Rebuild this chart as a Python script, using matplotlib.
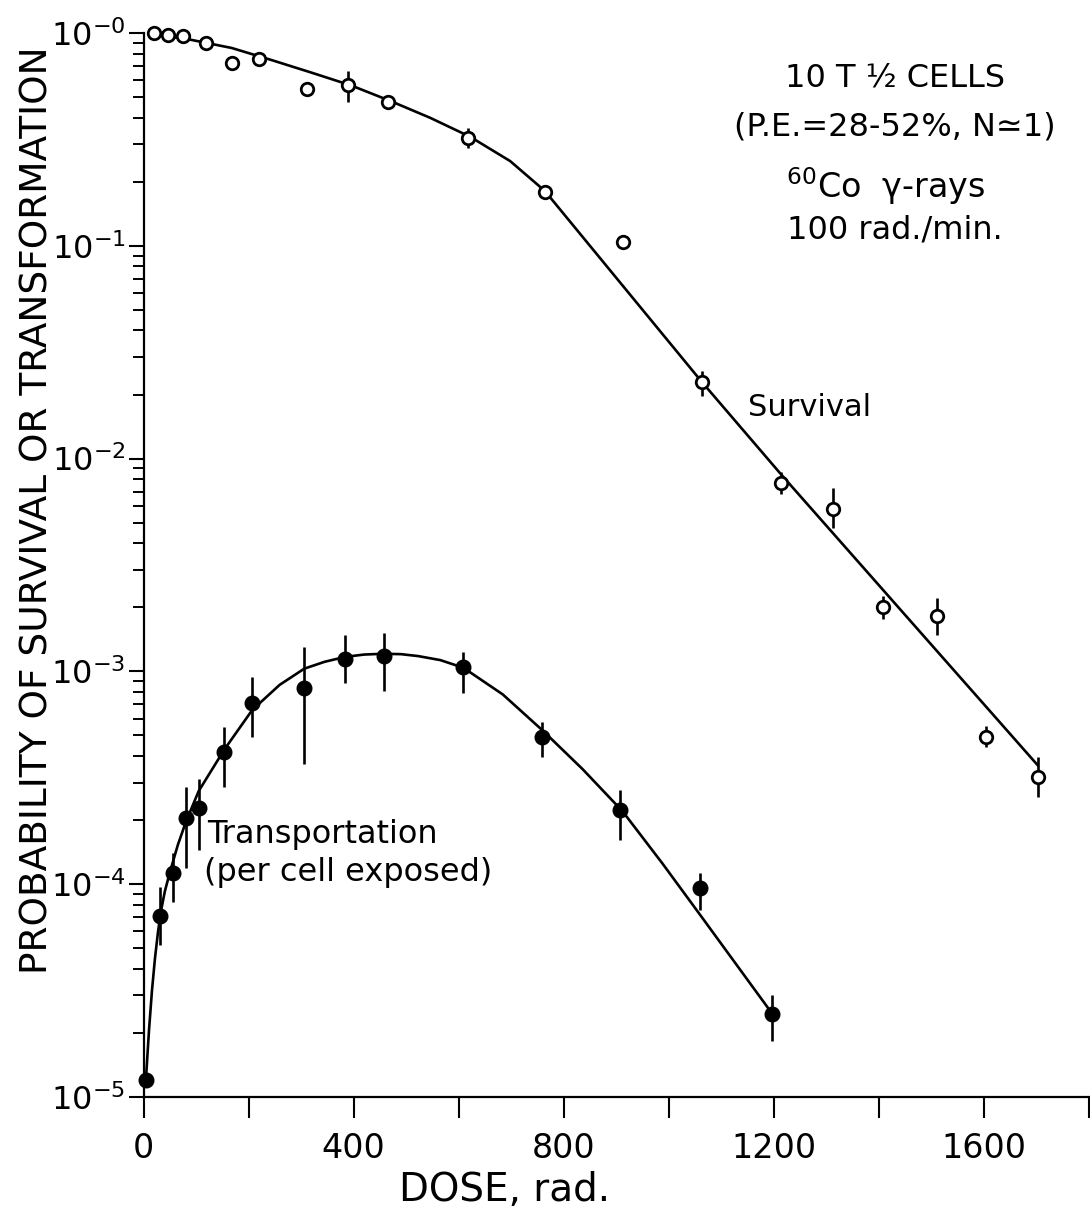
import numpy as np
import matplotlib
matplotlib.use("Agg")
import matplotlib.pyplot as plt
from matplotlib.ticker import FixedLocator, LogLocator, NullFormatter

plt.rcParams["font.family"] = ["DejaVu Sans"]
plt.rcParams["mathtext.default"] = "regular"

# -----------------------------------------------------------------------------
# Data
# -----------------------------------------------------------------------------
surv_dose = [20, 47, 75, 118, 168, 219, 312, 390, 466, 617, 765, 913,
             1063, 1213, 1312, 1408, 1510, 1603, 1703]
surv_val = [0.997, 0.978, 0.971, 0.90, 0.72, 0.757, 0.544, 0.570, 0.473,
            0.32, 0.1795, 0.1038, 0.0230, 0.00766, 0.00578, 0.00201,
            0.00182, 0.000493, 0.00032]
surv_lo = [np.nan] * 7 + [0.476, np.nan, 0.288, np.nan, np.nan, 0.0197,
                          0.00682, 0.00472, 0.00176, 0.00149, 0.000442, 0.000257]
surv_hi = [np.nan] * 7 + [0.665, np.nan, 0.358, np.nan, np.nan, 0.0258,
                          0.00866, 0.00724, 0.00227, 0.00221, 0.000553, 0.000398]

trans_dose = [5, 31, 56, 80, 105, 154, 207, 306, 383, 457, 609, 758, 908,
              1059, 1197]
trans_val = [1.20e-5, 7.09e-5, 1.125e-4, 2.04e-4, 2.27e-4, 4.17e-4, 7.13e-4,
             8.33e-4, 1.14e-3, 1.186e-3, 1.046e-3, 4.93e-4, 2.23e-4,
             9.57e-5, 2.46e-5]
trans_lo = [np.nan, 5.18e-5, 8.28e-5, 1.19e-4, 1.45e-4, 2.87e-4, 4.93e-4,
            3.67e-4, 8.79e-4, 8.11e-4, 7.89e-4, 3.97e-4, 1.61e-4, 7.57e-5,
            1.83e-5]
trans_hi = [np.nan, 9.73e-5, 1.40e-4, 2.87e-4, 3.11e-4, 5.46e-4, 9.44e-4,
            1.30e-3, 1.48e-3, 1.51e-3, 1.24e-3, 5.81e-4, 2.77e-4, 1.13e-4,
            3.01e-5]

# hand-drawn fit curves
surv_fit_dose = [16, 92, 168, 243, 319, 395, 470, 546, 622, 698, 764,
                 1063, 1213, 1702]
surv_fit_val = [0.989, 0.927, 0.850, 0.747, 0.652, 0.567, 0.479, 0.399,
                0.325, 0.250, 0.181, 0.0229, 0.00847, 0.000363]

trans_fit_dose = [4.7, 10.4, 16.1, 21.8, 27.5, 33.1, 40.7, 50.2, 65.3, 80.5,
                  105, 154, 207, 259, 306, 345, 384, 420, 457, 490, 523,
                  565, 609, 684, 760, 836, 912, 988, 1063, 1196]
trans_fit_val = [1.228e-5, 2.065e-5, 3.18e-5, 4.50e-5, 5.96e-5, 7.48e-5,
                 9.29e-5, 1.14e-4, 1.53e-4, 1.96e-4, 2.74e-4, 4.30e-4,
                 6.59e-4, 8.64e-4, 1.03e-3, 1.11e-3, 1.17e-3, 1.20e-3,
                 1.21e-3, 1.205e-3, 1.18e-3, 1.13e-3, 1.04e-3, 7.79e-4,
                 5.27e-4, 3.47e-4, 2.20e-4, 1.25e-4, 6.99e-5, 2.48e-5]

x_ticks = list(range(0, 1801, 200))
x_labels = ["0", "", "400", "", "800", "", "1200", "", "1600", ""]
y_ticks = [1e-5, 1e-4, 1e-3, 1e-2, 1e-1, 1e0]
y_labels = [r"$10^{-5}$", r"$10^{-4}$", r"$10^{-3}$", r"$10^{-2}$",
            r"$10^{-1}$", r"$10^{-0}$"]

# -----------------------------------------------------------------------------
# Figure
# -----------------------------------------------------------------------------
fig = plt.figure(figsize=(10.9, 12.17), dpi=100)
ax = fig.add_axes([0.1317, 0.0986, 0.8674, 0.8743])
ax.set_yscale("log")
ax.set_xlim(0, 1800)
ax.set_ylim(1e-5, 1.0)

lw = 1.9

# fit curves
ax.plot(surv_fit_dose, surv_fit_val, color="black", lw=lw, zorder=2,
        solid_joinstyle="round")
ax.plot(trans_fit_dose, trans_fit_val, color="black", lw=lw, zorder=2,
        solid_joinstyle="round")


def draw_bars(dose, val, lo, hi):
    d = np.array(dose, float)
    v = np.array(val, float)
    lo = np.array(lo, float)
    hi = np.array(hi, float)
    ok = np.isfinite(lo)
    ax.errorbar(d[ok], v[ok], yerr=[v[ok] - lo[ok], hi[ok] - v[ok]],
                fmt="none", ecolor="black", elinewidth=1.9, capsize=0,
                zorder=3, clip_on=False)


draw_bars(surv_dose, surv_val, surv_lo, surv_hi)
draw_bars(trans_dose, trans_val, trans_lo, trans_hi)

ax.plot(surv_dose, surv_val, "o", ms=9, mfc="white", mec="black", mew=2.0,
        zorder=4, clip_on=False)
ax.plot(trans_dose, trans_val, "o", ms=10.5, mfc="black", mec="black",
        zorder=4, clip_on=False)

# axes styling
for s in ["top", "right"]:
    ax.spines[s].set_visible(False)
for s in ["left", "bottom"]:
    ax.spines[s].set_linewidth(1.6)

ax.xaxis.set_major_locator(FixedLocator(x_ticks))
ax.set_xticklabels(x_labels)
ax.yaxis.set_major_locator(FixedLocator(y_ticks))
ax.set_yticklabels(y_labels)
ax.yaxis.set_minor_locator(LogLocator(base=10, subs=np.arange(2, 10)))
ax.yaxis.set_minor_formatter(NullFormatter())

ax.tick_params(axis="x", which="major", direction="out", length=15,
               width=1.5, labelsize=24, pad=10)
ax.tick_params(axis="y", which="major", direction="out", length=11,
               width=1.5, labelsize=23, pad=2)
ax.tick_params(axis="y", which="minor", direction="out", length=8,
               width=1.4)

# labels
fig.text(505 / 1090, 1 - 1190 / 1217, "DOSE, rad.", fontsize=28,
         ha="center", va="center")
fig.text(38 / 1090, 1 - 510 / 1217, "PROBABILITY OF SURVIVAL OR TRANSFORMATION",
         fontsize=27, rotation=90, ha="center", va="center")

# annotation block
tx = 895 / 1090
fig.text(tx, 1 - 78 / 1217, "10 T ½ CELLS", fontsize=23, ha="center", va="center")
fig.text(tx, 1 - 127 / 1217, "(P.E.=28-52%, N≃1)", fontsize=23, ha="center", va="center")
fig.text(886 / 1090, 1 - 186 / 1217, r"$^{60}$Co  $\gamma$-rays", fontsize=24,
         ha="center", va="center")
fig.text(tx, 1 - 230 / 1217, "100 rad./min.", fontsize=23, ha="center", va="center")

fig.text(748 / 1090, 1 - 408 / 1217, "Survival", fontsize=22, ha="left", va="center")
fig.text(207 / 1090, 1 - 834 / 1217, "Transportation", fontsize=23, ha="left", va="center")
fig.text(204 / 1090, 1 - 872 / 1217, "(per cell exposed)", fontsize=23, ha="left", va="center")

fig.savefig("out.png", dpi=100, facecolor="white")
